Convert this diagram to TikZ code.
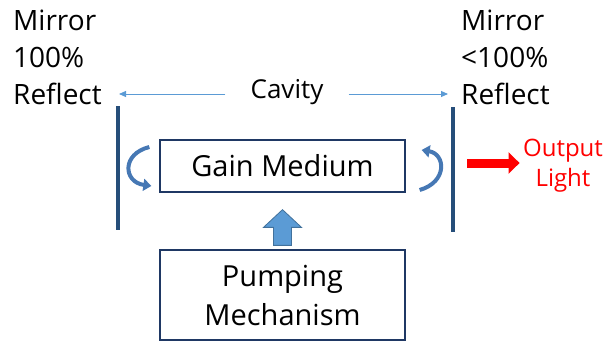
\documentclass[tikz,border=0pt]{standalone}
\usepackage{fontspec}
\setmainfont{Open Sans}
\usepackage{tikz}
\usetikzlibrary{arrows.meta, positioning, calc}
\definecolor{lznavy}{RGB}{31, 56, 100}
\definecolor{lzmirror}{RGB}{38, 78, 122}
\definecolor{lzsky}{RGB}{91, 155, 213}
\definecolor{lzcurve}{RGB}{70, 120, 180}
\definecolor{lzedge}{RGB}{65, 113, 156}
\definecolor{lzred}{RGB}{255, 0, 0}

\begin{document}
\begin{tikzpicture}[x=1pt, y=-1pt,
    lbl/.style={font=\fontsize{28}{37}\selectfont, inner sep=0pt},
    box/.style={draw=lznavy, line width=1.3pt, minimum width=245pt,
      font=\fontsize{29}{39}\selectfont, align=center},
    mirror/.style={lzmirror, line width=4pt},
    cavarrow/.style={lzsky, line width=0.9pt, -{Triangle[length=7pt, width=6pt]}},
    curv/.style={lzcurve, line width=4pt, -{Triangle[length=8pt, width=12pt]}}]

  \useasboundingbox (0,0) rectangle (606,343);

  % --- mirror labels (anchored at the last line) ---
  \node[lbl, anchor=base west, align=left] (mirL) at (13,104)
    {Mirror\\100\%\\Reflect};
  \node[lbl, anchor=base west, align=left] (mirR) at (461,104)
    {Mirror\\<100\%\\Reflect};

  % --- mirrors ---
  \coordinate (Ltop) at (118,106);
  \coordinate (Lbot) at (118,230);
  \coordinate (Rtop) at (453,107);
  \coordinate (Rbot) at (453,232);
  \draw[mirror] (Ltop) -- (Lbot);
  \draw[mirror] (Rtop) -- (Rbot);

  % --- cavity ---
  \node[font=\fontsize{26}{30}\selectfont, inner sep=0pt, inner xsep=25pt]
    (cav) at (287,92) {Cavity};
  \coordinate (cavL) at (119,94);
  \coordinate (cavR) at (448,94);
  \draw[cavarrow] (cav.west |- cavL) -- (cavL);
  \draw[cavarrow] (cav.east |- cavR) -- (cavR);

  % --- gain medium and pump ---
  \node[box, minimum height=52pt] (gain) at (282.5,166) {Gain Medium};
  \node[box, minimum height=90pt] (pump) at (282.5,295) {Pumping\\Mechanism};

  % --- pump block arrow ---
  \filldraw[fill=lzsky, draw=lzedge, line width=0.8pt]
    ($(pump.north)+(-9,-4)$) -- ++(0,-18) -- ++(-10,0)
    -- ($(gain.south)+(0,17)$) -- ($(pump.north)+(19,-22)$)
    -- ++(-10,0) -- ++(0,18) -- cycle;

  % --- round trips ---
  \draw[curv] ($(gain.west)+(-10,-19)$)
    .. controls ($(gain.west)+(-38,-12)$) and ($(gain.west)+(-36,16)$)
    .. ($(gain.west)+(-8,20)$);
  \draw[curv] ($(gain.east)+(14,24)$)
    .. controls ($(gain.east)+(42,16)$) and ($(gain.east)+(40,-12)$)
    .. ($(gain.east)+(16,-16)$);

  % --- output ---
  \node[font=\fontsize{24}{30}\selectfont, text=lzred, align=center] (out)
    at (563,166) {Output\\Light};
  \coordinate (outsrc) at (467,163);
  \draw[lzred, line width=9pt, -{Triangle[length=11pt, width=21pt]}]
    (outsrc) -- (outsrc -| out.west);

\end{tikzpicture}
\end{document}
